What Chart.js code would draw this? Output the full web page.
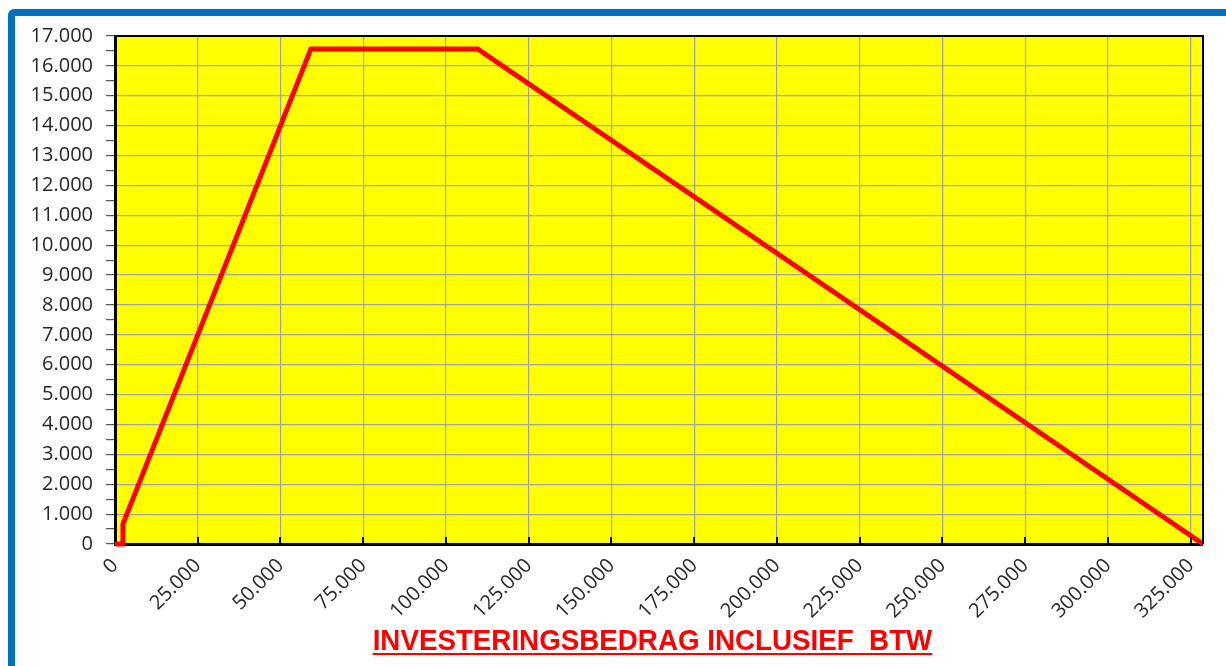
<!DOCTYPE html>
<html lang="nl">
<head>
<meta charset="UTF-8">
<title>KIA - investeringsbedrag</title>
<script src="https://cdn.jsdelivr.net/npm/chart.js"></script>
<style>
  body, html {
    margin: 0;
    padding: 0;
    width: 1226px;
    height: 666px;
    overflow: hidden;
    background: #fff;
    font-family: 'Open Sans', sans-serif;
  }
  .frame {
    position: absolute;
    left: 8px;
    top: 9px;
    width: 1240px;
    height: 700px;
    border: 7px solid #0070c0;
    border-radius: 6px;
    box-sizing: border-box;
  }
  #kiaChart {
    position: absolute;
    left: 0;
    top: 0;
  }
  .axis-title {
    position: absolute;
    left: 0;
    width: 1305px;
    top: 623px;
    text-align: center;
    color: #ff0000;
    font-family: 'Liberation Sans Narrow', 'Arial Narrow', 'Liberation Sans', sans-serif;
    font-weight: bold;
    font-size: 30px;
    text-decoration: underline;
    text-decoration-thickness: 2px;
    text-underline-offset: 3px;
    white-space: pre;
    transform: scaleX(0.925);
    transform-origin: 652px 0;
  }
</style>
</head>
<body>
  <div class="frame"></div>
  <canvas id="kiaChart" width="1226" height="666"></canvas>
  <div class="axis-title">INVESTERINGSBEDRAG INCLUSIEF  BTW</div>
<script>
  // investeringsbedrag (x) en aftrek (y)
  const investment = [0, 2400, 2401, 59170, 109574, 328721];
  const deduction = [0, 0, 672, 16568, 16568, 0];

  // as-labels
  const xTicks = [0, 25000, 50000, 75000, 100000, 125000, 150000, 175000, 200000, 225000, 250000, 275000, 300000, 325000];
  const yTicks = [0, 1000, 2000, 3000, 4000, 5000, 6000, 7000, 8000, 9000, 10000, 11000, 12000, 13000, 14000, 15000, 16000, 17000];

  const xMax = 328721;
  const yMax = 17000;

  function fmt(v) {
    return String(Math.round(v)).replace(/\B(?=(\d{3})+(?!\d))/g, '.');
  }

  const points = investment.map((x, i) => ({ x: x, y: deduction[i] }));

  // y ticks incl. tussenstreepjes (halve stappen)
  const yAllTicks = [];
  yTicks.forEach((v, i) => {
    yAllTicks.push(v);
    if (i < yTicks.length - 1) yAllTicks.push((v + yTicks[i + 1]) / 2);
  });

  // yellow plot area + frame + inner x ticks
  const plotArea = {
    id: 'plotArea',
    beforeDraw(chart) {
      const a = chart.chartArea;
      const c = chart.ctx;
      c.save();
      c.fillStyle = '#ffff00';
      c.fillRect(a.left, a.top, a.right - a.left, a.bottom - a.top);
      c.restore();
    },
    afterDatasetsDraw(chart) {
      const a = chart.chartArea;
      const c = chart.ctx;
      const xs = chart.scales.x;
      c.save();
      c.strokeStyle = '#000';
      c.lineWidth = 2;
      c.beginPath();
      c.moveTo(a.left, a.top);
      c.lineTo(a.right, a.top);
      c.lineTo(a.right, a.bottom);
      c.stroke();
      xTicks.forEach(v => {
        if (v === 0) return;
        const px = Math.round(xs.getPixelForValue(v));
        c.beginPath();
        c.moveTo(px, a.bottom);
        c.lineTo(px, a.bottom - 7);
        c.stroke();
      });
      c.restore();
    }
  };

  new Chart(document.getElementById('kiaChart'), {
    type: 'scatter',
    data: {
      datasets: [{
        data: points,
        showLine: true,
        borderColor: '#ff0000',
        borderWidth: 5,
        pointRadius: 0,
        borderJoinStyle: 'miter',
        clip: false
      }]
    },
    options: {
      responsive: false,
      animation: false,
      layout: { padding: { left: 0, top: 36, right: 23, bottom: 0 } },
      plugins: {
        legend: { display: false },
        tooltip: { enabled: false }
      },
      scales: {
        x: {
          type: 'linear',
          min: 0,
          max: xMax,
          afterBuildTicks(scale) { scale.ticks = xTicks.map(v => ({ value: v })); },
          afterFit(scale) { scale.height = 122; },
          grid: {
            color: '#a2a2a6',
            lineWidth: 1.2,
            drawTicks: false,
            tickLength: 0
          },
          border: { color: '#000', width: 3 },
          ticks: {
            autoSkip: false,
            minRotation: 45,
            maxRotation: 45,
            padding: 10,
            color: '#262626',
            font: { family: 'Open Sans', size: 20 },
            callback: v => fmt(v)
          }
        },
        y: {
          min: 0,
          max: yMax,
          afterBuildTicks(scale) { scale.ticks = yAllTicks.map(v => ({ value: v })); },
          afterFit(scale) { scale.width = 115; },
          grid: {
            color: ctx => (ctx.tick && yTicks.indexOf(ctx.tick.value) < 0) ? 'rgba(0,0,0,0)' : '#a2a2a6',
            lineWidth: 1.2,
            tickColor: '#555',
            tickLength: 9
          },
          border: { color: '#000', width: 3 },
          ticks: {
            autoSkip: false,
            padding: 13,
            color: '#262626',
            font: { family: 'Open Sans', size: 20 },
            callback: v => (yTicks.indexOf(v) >= 0 ? fmt(v) : '')
          }
        }
      }
    },
    plugins: [plotArea]
  });
</script>
</body>
</html>
